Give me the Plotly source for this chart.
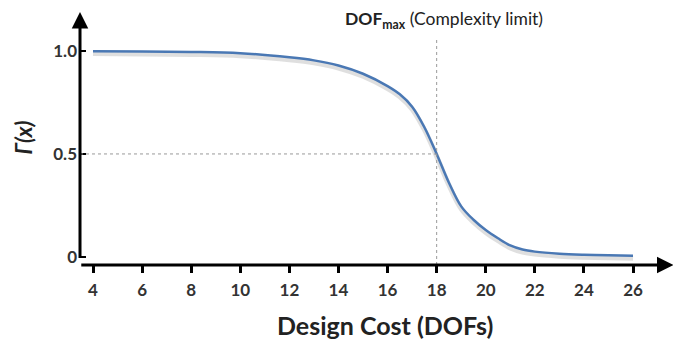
import plotly.graph_objects as go

# data
x_cost = [4, 6, 8, 10, 12, 13, 14, 15, 16, 16.5, 17, 17.5, 18, 18.5, 19, 19.5, 20, 20.5, 21, 21.5, 22, 23, 24, 25, 26]
gamma = [1.0, 0.998, 0.996, 0.99, 0.97, 0.955, 0.93, 0.89, 0.83, 0.79, 0.73, 0.63, 0.5, 0.36, 0.245, 0.18, 0.13, 0.09, 0.055, 0.035, 0.025, 0.015, 0.01, 0.007, 0.005]
x_ticks = [4, 6, 8, 10, 12, 14, 16, 18, 20, 22, 24, 26]
y_ticks = [0, 0.5, 1.0]
y_ticklabels = ["0", "0.5", "1.0"]
dof_max = 18
half = 0.5

FONT = "Lato"
fig = go.Figure()

# soft shadow under curve
fig.add_trace(go.Scatter(x=x_cost, y=[g - 0.012 for g in gamma], mode="lines",
                         line=dict(color="rgba(150,150,150,0.3)", width=5, shape="spline"),
                         hoverinfo="skip", showlegend=False))
fig.add_trace(go.Scatter(x=x_cost, y=gamma, mode="lines",
                         line=dict(color="#4a78b4", width=2.5, shape="spline"),
                         showlegend=False))

# dotted guides
fig.add_shape(type="line", x0=dof_max, x1=dof_max, y0=-0.04, y1=1.065,
              line=dict(color="#999999", width=1, dash="dot"))
fig.add_shape(type="line", x0=3.47, x1=dof_max, y0=half, y1=half,
              line=dict(color="#999999", width=1, dash="dot"))

# axes with arrows
fig.add_annotation(x=27.65, y=-0.04, ax=3.40, ay=-0.04, xref="x", yref="y", axref="x", ayref="y",
                   showarrow=True, arrowhead=2, arrowsize=1.1, arrowwidth=3, arrowcolor="black", text=" ")
fig.add_annotation(x=3.47, y=1.19, ax=3.47, ay=-0.055, xref="x", yref="y", axref="x", ayref="y",
                   showarrow=True, arrowhead=2, arrowsize=1.1, arrowwidth=3, arrowcolor="black", text=" ")

fig.add_annotation(x=dof_max + 0.3, y=1.15, xref="x", yref="y", showarrow=False,
                   yanchor="middle",
                   text="<b>DOF<sub>max</sub></b> (Complexity limit)",
                   font=dict(family=FONT, size=17.5, color="#222222"))
fig.add_annotation(x=0.513, y=-0.235, xref="paper", yref="paper", showarrow=False,
                   xanchor="center", yanchor="middle",
                   text="<b>Design Cost (DOFs)</b>",
                   font=dict(family=FONT, size=25, color="#222222"))

fig.update_layout(
    width=673, height=335,
    margin=dict(l=72, r=6, t=2, b=78),
    paper_bgcolor="white", plot_bgcolor="white",
    xaxis=dict(range=[3.47, 27.71], tickvals=x_ticks,
               ticktext=["<b>%d</b>" % v for v in x_ticks],
               ticks="outside", ticklen=7, tickwidth=2.5, ticklabelstandoff=3,
               tickcolor="black", showgrid=False, zeroline=False, showline=False,
               tickfont=dict(family=FONT, size=17, color="#333333"), fixedrange=True),
    yaxis=dict(range=[-0.04, 1.2], tickvals=y_ticks,
               ticktext=["<b>%s</b>" % t for t in y_ticklabels],
               ticks="inside", ticklen=6, ticklabelstandoff=2,
               tickwidth=2, tickcolor="black", showgrid=False, zeroline=False, showline=False,
               tickfont=dict(family=FONT, size=17, color="#333333"), fixedrange=True,
               automargin=False,
               title=dict(text="<b><i>Γ(x)</i></b>", standoff=14,
                          font=dict(family=FONT, size=22, color="#222222"))),
)

fig.write_html("out.html")
